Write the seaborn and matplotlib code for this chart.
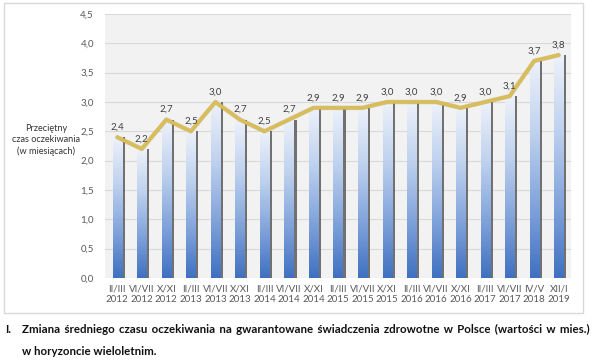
import numpy as np
import pandas as pd
import matplotlib
matplotlib.use("Agg")
import matplotlib.pyplot as plt
import matplotlib.patheffects as pe
from matplotlib.colors import LinearSegmentedColormap
from matplotlib.patches import Rectangle
import seaborn as sns

# data
periods = ["II/III", "VI/VII", "X/XI", "II/III", "VI/VII", "X/XI", "II/III", "VI/VII",
           "X/XI", "II/III", "VI/VII", "X/XI", "II/III", "VI/VII", "X/XI", "II/III",
           "VI/VII", "IV/V", "XII/I"]
years = ["2012", "2012", "2012", "2013", "2013", "2013", "2014", "2014", "2014",
         "2015", "2015", "2015", "2016", "2016", "2016", "2017", "2017", "2018", "2019"]
values = [2.4, 2.2, 2.7, 2.5, 3.0, 2.7, 2.5, 2.7, 2.9, 2.9, 2.9, 3.0, 3.0, 3.0,
          2.9, 3.0, 3.1, 3.7, 3.8]
yticks = [0.0, 0.5, 1.0, 1.5, 2.0, 2.5, 3.0, 3.5, 4.0, 4.5]

labels = [p + "\n" + y for p, y in zip(periods, years)]
df = pd.DataFrame({"okres": labels, "czas": values})

sns.set_style("white")
plt.rcParams["font.family"] = ["Lato", "DejaVu Sans"]

W, H = 600, 361
fig = plt.figure(figsize=(6, 3.61), dpi=100)

# chart frame
fig.patches.append(Rectangle((4 / W, 1 - 313 / H), 579 / W, 310 / H, transform=fig.transFigure,
                             facecolor="none", edgecolor="#d9d9d9", lw=1, zorder=-1))

ax = fig.add_axes([105 / W, 1 - 278 / H, 466 / W, 264 / H])
ax.set_facecolor("#f2f2f2")

sns.barplot(data=df, x="okres", y="czas", color="#4779c6", width=0.37, ax=ax, zorder=2)

cmap = LinearSegmentedColormap.from_list(
    "bar", [(0, "#eef2fa"), (0.35, "#bcd0ee"), (0.7, "#7c9fd9"), (1, "#3f70c0")])
grad = np.linspace(0, 1, 256).reshape(-1, 1)
centers = []
for patch in ax.patches:
    x0 = patch.get_x()
    w = patch.get_width()
    h = patch.get_height()
    centers.append(x0 + w / 2)
    patch.set_edgecolor("none")
    patch.set_path_effects([pe.SimplePatchShadow(offset=(2.2, 0), shadow_rgbFace="#5a5a5a", alpha=0.85),
                            pe.Normal()])
    im = ax.imshow(grad, cmap=cmap, extent=(x0, x0 + w, 0, h), aspect="auto",
                   origin="upper", zorder=2.1)
    im.set_clip_path(patch)

ax.plot(centers, values, color="#d8bd58", lw=2.4, zorder=3, solid_joinstyle="round",
        path_effects=[pe.Stroke(linewidth=3.2, foreground="#b59c45", alpha=0.5), pe.Normal()])

for cx, v in zip(centers, values):
    ax.annotate(f"{v:.1f}".replace(".", ","), (cx, v), xytext=(0, 4), textcoords="offset points",
                ha="center", va="bottom", fontsize=7, color="#404040", zorder=4)

ax.set_xlim(-0.5, len(values) - 0.5)
ax.set_ylim(0, 4.5)
ax.set_yticks(yticks)
ax.set_yticklabels([f"{t:.1f}".replace(".", ",") for t in yticks])
ax.yaxis.grid(True, color="#d9d9d9", lw=0.8)
ax.set_axisbelow(True)
ax.tick_params(axis="both", length=0, labelsize=7, labelcolor="#595959")
ax.tick_params(axis="y", pad=8)
ax.tick_params(axis="x", pad=5)
for s in ax.spines.values():
    s.set_visible(False)
ax.set_xlabel("")
ax.set_ylabel("")

fig.text(46 / W, 1 - 140 / H, "Przeciętny\nczas oczekiwania\n(w miesiącach)", ha="center", va="center",
         fontsize=6.6, color="#333333", linespacing=1.35)

# caption, first line spread to the full width with hair spaces
cap_kw = dict(fontsize=8.3, fontweight="bold", va="baseline", color="#111111")
base1 = 1 - 333 / H
fig.text(5 / W, base1, "I.", **cap_kw)
words = "Zmiana średniego czasu oczekiwania na gwarantowane świadczenia zdrowotne w Polsce (wartości w mies.)".split()
renderer = fig.canvas.get_renderer()
hs = "\u200a"


def text_width(s):
    t = fig.text(0, 0, s, **cap_kw)
    wdt = t.get_window_extent(renderer).width
    t.remove()
    return wdt


natural = text_width(" ".join(words))
hs_w = (text_width("a" + hs * 40 + "a") - text_width("aa")) / 40
x_start, x_end = 22, 587
per_gap = (x_end - x_start - natural) / (len(words) - 1)
n_hs = max(0, int(round(per_gap / hs_w))) if hs_w > 0 else 0
fig.text(x_start / W, base1, (" " + hs * n_hs).join(words), **cap_kw)
fig.text(22 / W, 1 - 355 / H, "w horyzoncie wieloletnim.", **cap_kw)

fig.savefig("out.png", dpi=100)
